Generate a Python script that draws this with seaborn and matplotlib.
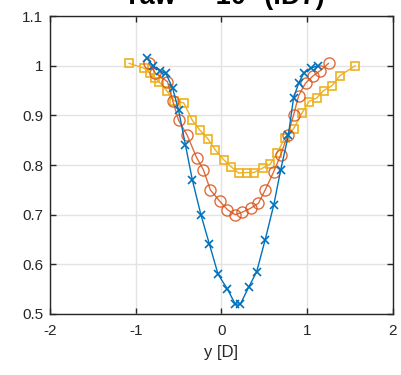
import matplotlib
matplotlib.use("Agg")
import matplotlib.pyplot as plt
import seaborn as sns
import pandas as pd

# Series 1 (blue, x markers)
blue_x = [-0.87, -0.8, -0.72, -0.65, -0.57, -0.5, -0.42, -0.34, -0.24, -0.14, -0.04, 0.07, 0.16,
          0.22, 0.32, 0.41, 0.51, 0.61, 0.69, 0.78, 0.84, 0.9, 0.96, 1.04, 1.12]
blue_y = [1.015, 1.0, 0.99, 0.985, 0.955, 0.91, 0.84, 0.77, 0.70, 0.64, 0.58, 0.55, 0.52,
          0.52, 0.555, 0.585, 0.65, 0.72, 0.79, 0.86, 0.935, 0.965, 0.985, 0.995, 1.0]

# Series 2 (red, circles)
red_x = [-0.85, -0.77, -0.63, -0.57, -0.5, -0.4, -0.29, -0.21, -0.13, -0.02, 0.07, 0.16, 0.24,
         0.34, 0.43, 0.51, 0.61, 0.69, 0.77, 0.84, 0.9, 0.98, 1.07, 1.15, 1.25]
red_y = [1.005, 0.985, 0.968, 0.93, 0.89, 0.86, 0.815, 0.79, 0.75, 0.727, 0.71, 0.70, 0.705,
         0.713, 0.723, 0.75, 0.787, 0.82, 0.86, 0.90, 0.94, 0.965, 0.98, 0.99, 1.005]

# Series 3 (yellow, squares)
yel_x = [-1.08, -0.9, -0.83, -0.77, -0.73, -0.64, -0.555, -0.44, -0.34, -0.25, -0.16, -0.07, 0.03,
         0.11, 0.2, 0.3, 0.38, 0.48, 0.57, 0.65, 0.74, 0.84, 0.94, 1.02, 1.11, 1.19, 1.29, 1.38, 1.56]
yel_y = [1.005, 0.995, 0.985, 0.975, 0.968, 0.95, 0.93, 0.925, 0.89, 0.87, 0.853, 0.83, 0.81,
         0.797, 0.784, 0.785, 0.785, 0.794, 0.802, 0.825, 0.855, 0.873, 0.905, 0.928, 0.935, 0.95,
         0.96, 0.98, 1.0]

x_ticks = [-2, -1, 0, 1, 2]
y_ticks = [0.5, 0.6, 0.7, 0.8, 0.9, 1.0, 1.1]
y_ticklabels = ["0.5", "0.6", "0.7", "0.8", "0.9", "1", "1.1"]
title = "Yaw = -10° (ID7)"
xlabel = "y [D]"

sns.set_theme(style="whitegrid")
plt.rcParams['font.family'] = ['Liberation Sans', 'DejaVu Sans']

fig = plt.figure(figsize=(4.01, 3.75), dpi=100)
ax = fig.add_axes([0.1247, 0.1627, 0.8553, 0.7943])

c_blue = "#0072BD"
c_red = "#D95319"
c_yel = "#EDB120"

df_b = pd.DataFrame({"x": blue_x, "y": blue_y})
df_r = pd.DataFrame({"x": red_x, "y": red_y})
df_y = pd.DataFrame({"x": yel_x, "y": yel_y})

sns.lineplot(data=df_y, x="x", y="y", ax=ax, sort=False, color=c_yel, lw=1.0,
             marker="s", markersize=6, markerfacecolor="none", markeredgecolor=c_yel,
             markeredgewidth=1.2, zorder=3)
sns.lineplot(data=df_r, x="x", y="y", ax=ax, sort=False, color=c_red, lw=1.0,
             marker="o", markersize=8, markerfacecolor="none", markeredgecolor=c_red,
             markeredgewidth=1.0, alpha=0.85, zorder=4)
sns.lineplot(data=df_b, x="x", y="y", ax=ax, sort=False, color=c_blue, lw=1.0,
             marker="x", markersize=6, markeredgecolor=c_blue, markeredgewidth=1.2, zorder=5)

ax.set_xlim(-2, 2)
ax.set_ylim(0.5, 1.1)
ax.set_xticks(x_ticks)
ax.set_xticklabels([str(t) for t in x_ticks])
ax.set_yticks(y_ticks)
ax.set_yticklabels(y_ticklabels)
ax.set_xlabel(xlabel, fontsize=12, color="#262626", labelpad=5)
ax.set_ylabel("")
ax.grid(True, color="#e3e3e3", lw=1.0)
ax.set_facecolor("white")
for s in ax.spines.values():
    s.set_color("#262626")
    s.set_linewidth(1.0)
ax.tick_params(axis="both", which="both", direction="in", length=4, width=1.0,
               color="#262626", labelsize=11, labelcolor="#262626",
               top=True, right=True, bottom=True, left=True)
ax.tick_params(axis="x", pad=7)
ax.tick_params(axis="y", pad=5)

fig.text(0.557, 0.988, title, ha="center", va="baseline", fontsize=19.5,
         fontweight="bold", color="black")

fig.savefig("out.png", dpi=100)
